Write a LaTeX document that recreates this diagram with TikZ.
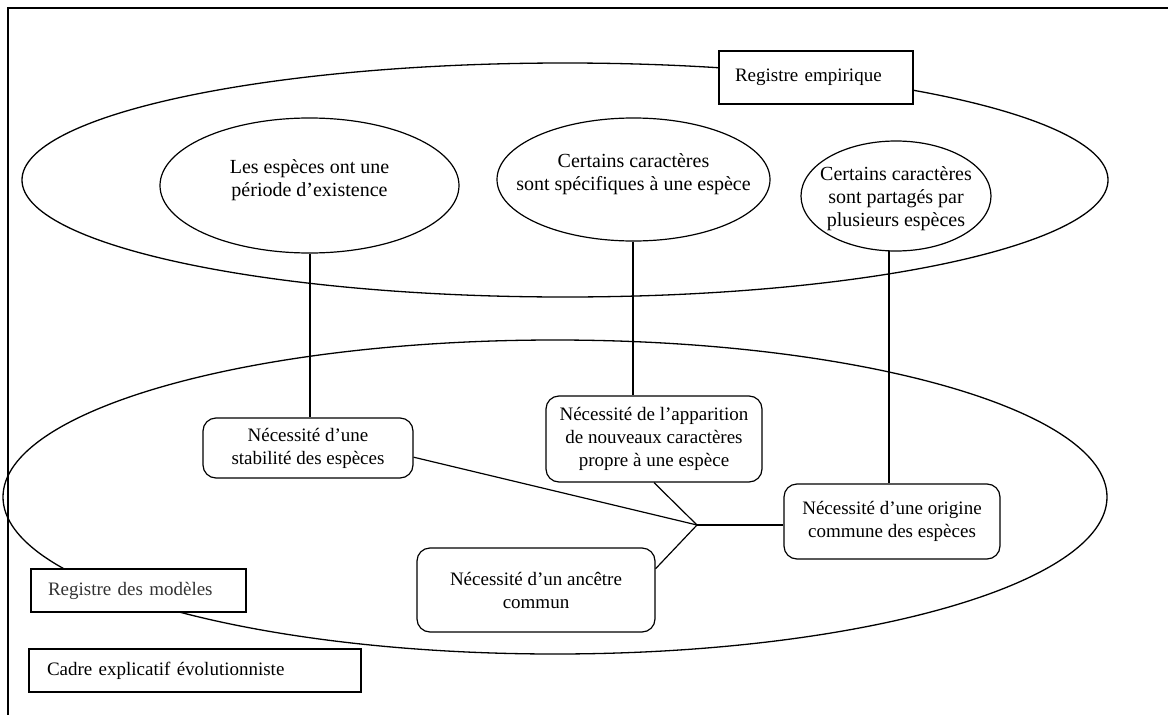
\documentclass[tikz,border=0pt]{standalone}
\usepackage{fontspec}
\setmainfont{Liberation Serif}
\usetikzlibrary{shapes.geometric,calc}
\begin{document}
\begin{tikzpicture}[x=1pt,y=-1pt,
  every node/.style={font=\fontsize{19}{23}\selectfont},
  bigell/.style={draw,ellipse,line width=1.3pt,inner sep=0pt},
  smallell/.style={draw,ellipse,line width=1.2pt,inner sep=0pt},
  elltext/.style={align=center,inner sep=0pt,font=\fontsize{20}{23}\selectfont},
  rbox/.style={draw,fill=white,rounded corners=13pt,line width=1.2pt,align=center,inner sep=0pt},
  lbox/.style={draw,fill=white,line width=1.2pt,align=left,inner ysep=0pt},
  link/.style={line width=1.2pt}]
\useasboundingbox (0,0) rectangle (1168,715);
\draw[line width=1.8pt] (1168,8) -- (8,8) -- (8,715);
% big ellipses
\node[bigell, minimum width=1086pt, minimum height=234pt] (emp) at (565,180) {};
\node[bigell, minimum width=1104pt, minimum height=314pt] (mod) at (555,497) {};
% labels of registers
\node[lbox, text width=162pt, inner xsep=16pt, minimum height=53pt] (lemp) at (816,77.5) {Registre empirique};
\node[lbox, text width=181pt, inner xsep=17pt, minimum height=43pt, text=black!80] (lmod) at (138.5,590.5) {Registre des modèles};
\node[lbox, text width=296pt, inner xsep=18pt, minimum height=43pt] (cadre) at (195,670.5) {Cadre explicatif évolutionniste};
% small ellipses
\node[smallell, minimum width=299pt, minimum height=135pt] (E1) at (309.5,185.5) {};
\node[elltext] (E1t) at (309.5,180) {Les espèces ont une\\période d’existence};
\node[smallell, minimum width=273pt, minimum height=123pt] (E2) at (633.5,179.5) {};
\node[elltext] (E2t) at (633.5,174) {Certains caractères\\sont spécifiques à une espèce};
\node[smallell, minimum width=190pt, minimum height=110pt] (E3) at (896,196) {};
\node[elltext] (E3t) at (896,199) {Certains caractères\\sont partagés par\\plusieurs espèces};
% model boxes
\node[rbox, minimum width=210pt, minimum height=60pt] (B1) at (308,448) {Nécessité d’une\\stabilité des espèces};
\node[rbox, minimum width=216pt, minimum height=86pt] (B2) at (654,439) {Nécessité de l’apparition\\de nouveaux caractères\\propre à une espèce};
\node[rbox, minimum width=216pt, minimum height=75pt] (B3) at (892,521.5) {Nécessité d’une origine\\commune des espèces};
\node[rbox, minimum width=238pt, minimum height=84pt] (B4) at (536,590) {Nécessité d’un ancêtre\\commun};
% connectors
\coordinate (E1b) at ($(E1.south)+(0.5,0)$);
\coordinate (E2b) at ($(E2.south)+(-0.5,0)$);
\coordinate (E3b) at ($(E3.south)+(-7,-0.3)$);
\draw[link] (E1b) -- (E1b |- B1.north);
\draw[link] (E2b) -- (E2b |- B2.north);
\draw[link] (E3b) -- (E3b |- B3.north);
\coordinate (J) at (697,525);
\draw[link] ($(B1.south east)!0.35!(B1.north east)$) -- (J);
\draw[link] (B2.south) -- (J);
\draw[link] (J) -- (J -| B3.west);
\draw[link] (J) -- ($(B4.north east)!0.25!(B4.south east)$);
\end{tikzpicture}
\end{document}
